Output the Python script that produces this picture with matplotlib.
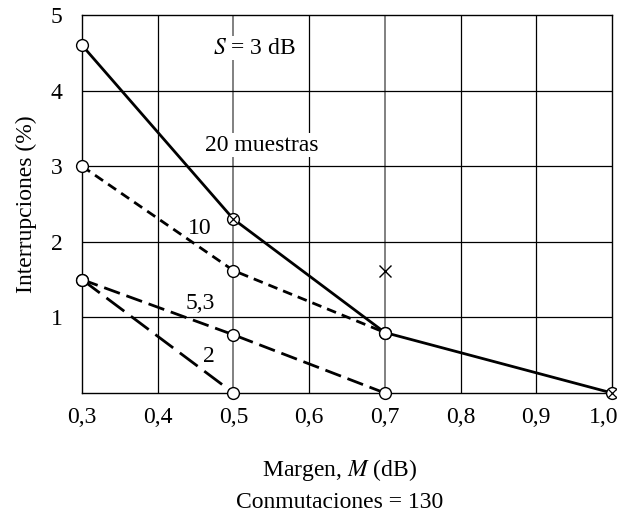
import matplotlib
matplotlib.use("Agg")
import matplotlib.pyplot as plt
from matplotlib.transforms import ScaledTranslation

plt.rcParams['font.family'] = ['Liberation Serif', 'DejaVu Serif']
plt.rcParams['mathtext.fontset'] = 'stix'

x20 = [0.3, 0.5, 0.7, 1.0]
y20 = [4.6, 2.3, 0.8, 0.0]
x10 = [0.3, 0.5, 0.7]
y10 = [3.0, 1.62, 0.8]
x53 = [0.3, 0.5, 0.7]
y53 = [1.5, 0.77, 0.0]
x2 = [0.3, 0.5]
y2 = [1.5, 0.0]
xcross = [0.7]
ycross = [1.62]
xotimes = [0.5, 1.0]
yotimes = [2.3, 0.0]

xticks = [0.3, 0.4, 0.5, 0.6, 0.7, 0.8, 0.9, 1.0]
xticklabels = ['0,3', '0,4', '0,5', '0,6', '0,7', '0,8', '0,9', '1,0']
yticks = [1, 2, 3, 4, 5]

fig = plt.figure(figsize=(6.17, 5.21), dpi=100)
L, B, W, H = 0.1329, 0.2457, 0.8590, 0.7255
ax = fig.add_axes([L, B, W, H])
ax.set_xlim(0.3, 1.0)
ax.set_ylim(0, 5)

# grid
for xv in xticks[1:-1]:
    special = xv in (0.5, 0.7)
    ax.axvline(xv, color='#808080' if special else 'black', lw=1.4 if special else 0.9, zorder=1)
for yv in yticks[:-1]:
    ax.axhline(yv, color='black', lw=0.9, zorder=1)

lw = 2.0
mk = dict(marker='o', ms=8.5, mfc='white', mec='black', mew=1.0, clip_on=False, zorder=5)
ax.plot(x20, y20, color='black', lw=lw, ls='-', **mk)
ax.plot(x10, y10, color='black', lw=lw, ls=(0, (3.5, 2.2)), **mk)
ax.plot(x53, y53, color='black', lw=lw, ls=(0, (6, 2.5)), **mk)
ax.plot(x2, y2, color='black', lw=lw, ls=(0, (8, 3)), **mk)
ax.plot(xotimes, yotimes, ls='none', marker='x', ms=6, mec='black', mew=0.9, clip_on=False, zorder=6)
ax.plot(xcross, ycross, ls='none', marker='x', ms=8.5, mec='black', mew=1.0, zorder=6)

fs = 17
ax.text(0.528, 4.56, '$S$ = 3 dB', fontsize=fs, ha='center', va='center',
        bbox=dict(fc='white', ec='none', pad=1), zorder=3)
ax.text(0.538, 3.28, '20 muestras', fontsize=fs, ha='center', va='center',
        bbox=dict(fc='white', ec='none', pad=1), zorder=3)
ax.text(0.456, 2.17, '10', fontsize=fs, ha='center', va='center', zorder=3)
ax.text(0.456, 1.18, '5,3', fontsize=fs, ha='center', va='center', zorder=3)
ax.text(0.468, 0.48, '2', fontsize=fs, ha='center', va='center', zorder=3)

ax.set_xticks(xticks)
ax.set_xticklabels(xticklabels, fontsize=fs)
ax.set_yticks(yticks)
ax.set_yticklabels([str(v) for v in yticks], fontsize=fs)
ax.tick_params(axis='x', length=0, pad=10)
ax.tick_params(axis='y', length=0, pad=14)
last = ax.get_xticklabels()[-1]
last.set_horizontalalignment('right')
last.set_transform(last.get_transform() + ScaledTranslation(6 / 100, 0, fig.dpi_scale_trans))
for s in ax.spines.values():
    s.set_linewidth(1.0)

ax.set_ylabel('Interrupciones (%)', fontsize=fs, labelpad=10)
cx = 340 / 617
fig.text(cx, 1 - 470 / 521, 'Margen, $M$ (dB)', fontsize=fs, ha='center', va='center')
fig.text(cx, 1 - 503 / 521, 'Conmutaciones = 130', fontsize=fs, ha='center', va='center')

fig.savefig('out.png', dpi=100)
